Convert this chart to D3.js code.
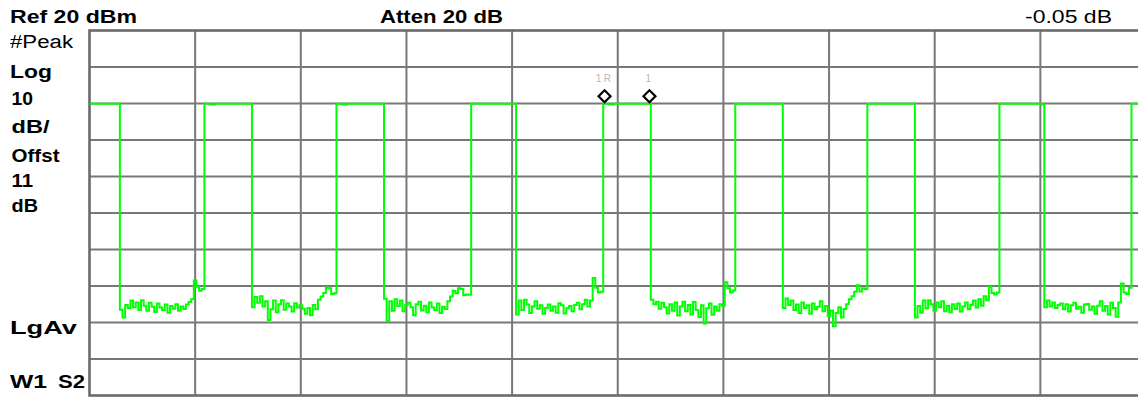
<!DOCTYPE html>
<html>
<head>
<meta charset="utf-8">
<script src="https://cdn.jsdelivr.net/npm/d3@7"></script>
<style>
  html, body { margin: 0; padding: 0; background: #fff; overflow: hidden; }
  svg { display: block; }
</style>
</head>
<body>
<svg id="chart" width="1138" height="400"></svg>
<script>
// ---------------- data ----------------
// Reference level / scale (dBm)
const refLevel = 20;
const divisionsY = 10;
const dbPerDiv = 10;
// sweep points (0 .. 400)
const sweepPoints = 401;
const divisionsX = 10;

// Trace amplitude (dBm) per sweep point
const trace = [
  // 0-11 on
  -0.05,-0.05,-0.05,-0.05,-0.05,-0.05,-0.05,-0.05,-0.05,-0.05,-0.05,-0.05,
  // 12-39 off
  -56.5,-58.6,-55.2,-56.0,-54.0,-55.8,-54.5,-56.6,-53.9,-55.4,-56.8,-54.6,-55.7,-57.1,
  -54.8,-55.9,-56.6,-55.1,-57.3,-55.5,-56.2,-55.0,-56.8,-55.6,-56.3,-55.1,-54.4,-53.6,
  // 40-43 ramp
  -48.5,-50.2,-51.3,-50.8,
  // 44-61 on
  -0.05,-0.05,-0.3,-0.3,-0.05,-0.05,-0.05,-0.05,-0.05,-0.05,-0.05,-0.05,-0.05,-0.05,-0.05,-0.05,-0.05,-0.05,
  // 62-89 off
  -55.8,-53.0,-54.6,-52.8,-55.6,-54.2,-59.3,-56.4,-54.0,-57.2,-55.0,-53.9,-56.5,-54.8,
  -55.6,-57.0,-54.7,-55.9,-55.3,-56.2,-57.6,-56.0,-58.0,-55.2,-56.4,-53.8,-52.9,-51.9,
  // 90-93 ramp
  -50.4,-50.6,-52.2,-52.0,
  // 94-111 on
  -0.05,-0.05,-0.3,-0.3,-0.05,-0.05,-0.05,-0.05,-0.05,-0.05,-0.05,-0.05,-0.05,-0.05,-0.05,-0.05,-0.05,-0.05,
  // 112-139 off
  -53.5,-59.5,-54.2,-56.8,-53.6,-55.5,-54.0,-56.9,-55.2,-54.6,-55.8,-58.0,-55.0,-54.3,
  -56.7,-55.4,-57.2,-54.5,-55.9,-56.6,-54.8,-57.4,-55.7,-56.3,-54.2,-52.9,-51.3,-52.0,
  // 140-144 ramp
  -50.6,-50.8,-52.5,-52.3,-52.4,
  // 145-161 on
  -0.05,-0.05,-0.05,-0.05,-0.05,-0.05,-0.05,-0.05,-0.05,-0.05,-0.05,-0.05,-0.05,-0.05,-0.05,-0.05,-0.05,
  // 162-190 off
  -57.8,-54.0,-56.6,-53.8,-55.1,-57.4,-55.6,-54.2,-56.2,-55.3,-57.6,-56.0,-55.1,-56.8,-55.6,
  -57.3,-54.7,-55.3,-57.5,-56.1,-55.5,-56.9,-55.2,-54.6,-56.4,-55.0,-53.8,-55.6,-54.0,
  // 191-194 ramp
  -47.8,-50.5,-51.8,-51.6,
  // 195-212 on
  -0.05,-0.05,-0.3,-0.3,-0.05,-0.05,-0.05,-0.05,-0.05,-0.05,-0.05,-0.05,-0.05,-0.05,-0.05,-0.05,-0.05,-0.05,
  // 213-240 off
  -53.8,-55.0,-54.3,-56.2,-54.6,-55.8,-57.5,-55.0,-56.8,-54.5,-58.1,-55.6,-54.3,-56.9,
  -55.2,-57.8,-54.4,-56.6,-58.5,-55.3,-60.3,-56.1,-54.8,-57.9,-55.6,-56.8,-55.0,-55.4,
  // 241-244 ramp
  -49.0,-50.6,-51.8,-51.2,
  // 245-262 on
  -0.05,-0.05,-0.05,-0.05,-0.05,-0.05,-0.05,-0.05,-0.05,-0.05,-0.05,-0.05,-0.05,-0.05,-0.05,-0.05,-0.05,-0.05,
  // 263-290 off
  -56.0,-53.4,-55.2,-54.0,-56.6,-55.1,-57.4,-54.5,-56.0,-55.3,-57.6,-54.8,-56.4,-55.7,
  -54.2,-56.9,-55.5,-58.2,-56.7,-61.0,-57.4,-55.8,-58.6,-56.3,-55.0,-53.6,-52.8,-51.6,
  // 291-294 ramp
  -49.8,-51.5,-50.6,-50.8,
  // 295-312 on
  -0.05,-0.05,-0.05,-0.05,-0.05,-0.05,-0.05,-0.05,-0.05,-0.05,-0.05,-0.05,-0.05,-0.05,-0.05,-0.05,-0.05,-0.05,
  // 313-340 off
  -58.6,-55.5,-57.3,-54.0,-56.1,-53.9,-55.0,-56.7,-54.5,-55.8,-54.2,-56.9,-55.4,-57.2,
  -55.0,-56.3,-54.8,-57.0,-55.6,-54.5,-56.4,-55.2,-54.0,-55.9,-53.6,-55.4,-52.8,-53.9,
  // 341-344 ramp
  -50.2,-51.9,-52.3,-51.8,
  // 345-361 on
  -0.05,-0.05,-0.05,-0.05,-0.05,-0.05,-0.05,-0.05,-0.05,-0.05,-0.05,-0.05,-0.05,-0.05,-0.05,-0.05,-0.3,
  // 362-390 off
  -55.8,-54.0,-55.6,-54.5,-56.0,-55.2,-54.8,-56.4,-55.0,-57.0,-55.3,-54.6,-56.2,-55.7,-57.3,
  -55.1,-54.9,-56.5,-55.6,-57.6,-55.4,-54.2,-56.8,-55.5,-57.8,-54.6,-56.0,-58.4,-54.5,
  // 391-394 ramp
  -49.3,-51.8,-52.2,-50.5,
  // 395-400 on
  -0.05,-0.05,-0.05,-0.05,-0.05,-0.05
];

// Markers: sweep index + label
const markerIdx = [195, 212];
const markerLabels = ["1R", "1"];

// Annotation texts
const headerTexts = ["Ref 20 dBm", "Atten 20 dB", "-0.05 dB"];
const leftTexts = ["#Peak", "Log", "10", "dB/", "Offst", "11", "dB", "LgAv", "W1", "S2"];

// ---------------- layout ----------------
const svg = d3.select("#chart");
const plot = { left: 89.5, top: 30.5, right: 1146, bottom: 395.5 };

const x = d3.scaleLinear().domain([0, sweepPoints - 1]).range([plot.left, plot.right]);
const y = d3.scaleLinear().domain([refLevel - divisionsY * dbPerDiv, refLevel]).range([plot.bottom, plot.top]);

// grid
const grid = svg.append("g");
const xGrid = d3.range(1, divisionsX).map(i => i * (sweepPoints - 1) / divisionsX);
const yGrid = d3.range(1, divisionsY).map(i => refLevel - i * dbPerDiv);

grid.selectAll("line.v").data(xGrid).join("line")
  .attr("x1", d => x(d)).attr("x2", d => x(d))
  .attr("y1", plot.top).attr("y2", plot.bottom)
  .attr("stroke", "#787878").attr("stroke-width", 2);
grid.selectAll("line.h").data(yGrid).join("line")
  .attr("x1", plot.left).attr("x2", plot.right)
  .attr("y1", d => y(d)).attr("y2", d => y(d))
  .attr("stroke", "#787878").attr("stroke-width", 2);

// border
svg.append("rect")
  .attr("x", plot.left).attr("y", plot.top)
  .attr("width", plot.right - plot.left).attr("height", plot.bottom - plot.top)
  .attr("fill", "none").attr("stroke", "#6a6a6a").attr("stroke-width", 2.6);

// clip
svg.append("clipPath").attr("id", "clip").append("rect")
  .attr("x", plot.left).attr("y", plot.top)
  .attr("width", plot.right - plot.left).attr("height", plot.bottom - plot.top);

// trace
const line = d3.line()
  .x((d, i) => x(i))
  .y(d => y(d))
  .curve(d3.curveStep);

svg.append("path")
  .datum(trace)
  .attr("clip-path", "url(#clip)")
  .attr("d", line)
  .attr("fill", "none")
  .attr("stroke", "#00ff00")
  .attr("stroke-width", 2)
  .attr("stroke-linejoin", "miter");

// markers
const mk = svg.append("g");
const diamond = d3.symbol().type(d3.symbolSquare).size(72);
markerIdx.forEach((idx, k) => {
  const cx = x(idx), cy = y(trace[idx]) - 7.5;
  mk.append("path")
    .attr("d", diamond())
    .attr("transform", `translate(${cx},${cy}) rotate(45)`)
    .attr("fill", "#fff").attr("stroke", "#000").attr("stroke-width", 2.2);
  mk.append("text")
    .attr("x", cx).attr("y", 81.5)
    .attr("text-anchor", "middle")
    .attr("font-family", "Liberation Sans, Arial, sans-serif")
    .attr("font-size", 10)
    .attr("letter-spacing", 2.5)
    .attr("fill", "#b8b8b8")
    .text(markerLabels[k]);
});

// header texts
const headerPos = [
  { x: 10, y: 22.7, w: 127, bold: true },
  { x: 380, y: 22.7, w: 123, bold: true },
  { x: 1025, y: 22.7, w: 87, bold: false }
];
const leftPos = [
  { x: 10, y: 48.3, w: 63, bold: false },
  { x: 10, y: 78, w: 42, bold: true },
  { x: 11.5, y: 105, w: 21.5, bold: true },
  { x: 11.5, y: 133.3, w: 38, bold: true },
  { x: 11.5, y: 161.7, w: 48, bold: true },
  { x: 11.5, y: 186.7, w: 21.5, bold: true },
  { x: 11.5, y: 211.7, w: 26.5, bold: true },
  { x: 10, y: 334, w: 67, bold: true },
  { x: 10, y: 388, w: 37, bold: true },
  { x: 58, y: 388, w: 27, bold: true }
];

function addText(txt, p, size) {
  svg.append("text")
    .attr("x", p.x).attr("y", p.y)
    .attr("font-family", "Liberation Sans, Arial, sans-serif")
    .attr("font-size", size)
    .attr("font-weight", p.bold ? "bold" : "normal")
    .attr("fill", "#000")
    .attr("textLength", p.w)
    .attr("lengthAdjust", "spacingAndGlyphs")
    .text(txt);
}
headerTexts.forEach((t, i) => addText(t, headerPos[i], 17.5));
leftTexts.forEach((t, i) => addText(t, leftPos[i], 18));
</script>
</body>
</html>
